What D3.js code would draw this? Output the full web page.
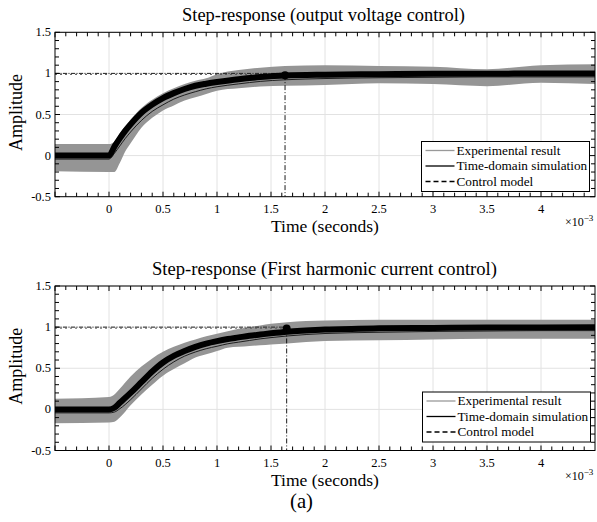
<!DOCTYPE html>
<html>
<head>
<meta charset="utf-8">
<script src="https://cdn.jsdelivr.net/npm/d3@7"></script>
<style>
  html, body { margin: 0; padding: 0; background: #fff; }
  svg { display: block; }
</style>
</head>
<body>
<svg id="chart" width="597" height="522" font-family="'Liberation Serif', 'DejaVu Serif', serif"></svg>
<script>
// ---- data (time in milliseconds, amplitude normalised) ----
const topTitle = "Step-response (output voltage control)";
const botTitle = "Step-response (First harmonic current control)";
const xTickValues = [0, 0.5, 1, 1.5, 2, 2.5, 3, 3.5, 4];
const xTickLabels = ["0", "0.5", "1", "1.5", "2", "2.5", "3", "3.5", "4"];
const yTickValues = [-0.5, 0, 0.5, 1, 1.5];
const yTickLabels = ["-0.5", "0", "0.5", "1", "1.5"];
const legendLabels = ["Experimental result", "Time-domain simulation", "Control model"];

// output voltage control
const topTime  = [-0.5, 0, 0.05, 0.1, 0.15, 0.2, 0.3, 0.4, 0.5, 0.6, 0.7, 0.8, 0.9, 1.0, 1.2, 1.4, 1.63, 2.0, 2.5, 3.0, 3.5, 4.0, 4.5];
const topSim   = [0, 0, 0.11, 0.21, 0.30, 0.38, 0.52, 0.62, 0.70, 0.76, 0.81, 0.85, 0.875, 0.895, 0.93, 0.955, 0.975, 0.985, 0.99, 0.995, 0.995, 1.0, 1.0];
const topModel = [0, 0, 0.07, 0.16, 0.25, 0.33, 0.47, 0.58, 0.66, 0.73, 0.78, 0.82, 0.855, 0.88, 0.915, 0.945, 0.965, 0.98, 0.99, 0.995, 1.0, 1.0, 1.0];
const topExpHigh = [0.14, 0.14, 0.17, 0.27, 0.36, 0.44, 0.58, 0.68, 0.76, 0.82, 0.87, 0.91, 0.94, 0.99, 1.04, 1.07, 1.09, 1.1, 1.09, 1.08, 1.05, 1.1, 1.11];
const topExpLow  = [-0.19, -0.2, -0.2, -0.09, 0.05, 0.15, 0.34, 0.46, 0.55, 0.61, 0.67, 0.71, 0.75, 0.79, 0.82, 0.84, 0.85, 0.86, 0.88, 0.87, 0.845, 0.885, 0.87];
const topSettle = { t: 1.63, v: 0.979 };

// first harmonic current control
const botTime  = [-0.5, 0, 0.05, 0.1, 0.2, 0.3, 0.4, 0.5, 0.6, 0.7, 0.8, 0.9, 1.0, 1.1, 1.2, 1.3, 1.4, 1.5, 1.65, 2.0, 2.5, 3.0, 3.5, 4.0, 4.5];
const botSim   = [0, 0, 0.02, 0.08, 0.2, 0.33, 0.46, 0.57, 0.65, 0.71, 0.76, 0.8, 0.83, 0.855, 0.875, 0.895, 0.91, 0.925, 0.945, 0.97, 0.985, 0.99, 0.995, 0.995, 1.0];
const botModel = [0, 0, 0.01, 0.05, 0.16, 0.29, 0.42, 0.53, 0.62, 0.69, 0.74, 0.78, 0.81, 0.84, 0.86, 0.88, 0.9, 0.915, 0.935, 0.965, 0.98, 0.99, 0.995, 1.0, 1.0];
const botExpHigh = [0.13, 0.15, 0.18, 0.25, 0.4, 0.52, 0.62, 0.7, 0.76, 0.81, 0.85, 0.89, 0.92, 0.95, 0.98, 1.0, 1.02, 1.04, 1.06, 1.08, 1.09, 1.09, 1.09, 1.09, 1.09];
const botExpLow  = [-0.17, -0.16, -0.15, -0.1, 0.05, 0.18, 0.3, 0.41, 0.49, 0.56, 0.63, 0.67, 0.71, 0.75, 0.76, 0.77, 0.78, 0.79, 0.8, 0.83, 0.84, 0.85, 0.86, 0.86, 0.86];
const botSettle = { t: 1.645, v: 0.984 };

const FONT = "'Liberation Serif', 'DejaVu Serif', serif";
const svg = d3.select("#chart");
const W = { left: 55, right: 595 };

// scale a text's font size so that its rendered width equals `width`
function fitWidth(sel, width) {
  const fs = parseFloat(sel.attr("font-size"));
  const w = sel.node().getComputedTextLength();
  if (w > 0) sel.attr("font-size", (fs * width / w).toFixed(2));
  return sel;
}

function txt(parent, x, y, s, size, anchor) {
  return parent.append("text").attr("x", x).attr("y", y).attr("font-family", FONT)
    .attr("font-size", size).attr("text-anchor", anchor || "start").attr("fill", "#000").text(s);
}

function drawPanel(cfg) {
  const x = d3.scaleLinear().domain([-0.5, 4.5]).range([W.left, W.right]);
  const y = d3.scaleLinear().domain([-0.5, 1.5]).range([cfg.bottom, cfg.top]);
  const g = svg.append("g");
  const clipId = "clip" + cfg.id;
  svg.append("clipPath").attr("id", clipId).append("rect")
    .attr("x", W.left).attr("y", cfg.top).attr("width", W.right - W.left).attr("height", cfg.bottom - cfg.top);

  // grid
  const grid = g.append("g").attr("stroke", "#e2e2e2").attr("stroke-width", 1);
  xTickValues.forEach(v => grid.append("line").attr("x1", x(v)).attr("x2", x(v)).attr("y1", cfg.top).attr("y2", cfg.bottom));
  yTickValues.forEach(v => grid.append("line").attr("x1", W.left).attr("x2", W.right).attr("y1", y(v)).attr("y2", y(v)));

  const plot = g.append("g").attr("clip-path", `url(#${clipId})`);

  // experimental envelope
  const idx = d3.range(cfg.time.length);
  const area = d3.area().curve(d3.curveMonotoneX)
    .x(i => x(cfg.time[i])).y0(i => y(cfg.expLow[i])).y1(i => y(cfg.expHigh[i]));
  plot.append("path").attr("d", area(idx)).attr("fill", "#959595");

  const line = arr => d3.line().curve(d3.curveMonotoneX).x(i => x(cfg.time[i])).y(i => y(arr[i]))(idx);

  // reference level
  const ref = d3.line()([[x(-0.5), y(1)], [x(cfg.settle.t), y(1)]]);
  plot.append("path").attr("d", ref).attr("fill", "none").attr("stroke", "#222").attr("stroke-width", 1)
    .attr("stroke-dasharray", "4,1.5,1,1.5");
  plot.append("path").attr("d", ref).attr("fill", "none").attr("stroke", "#555").attr("stroke-width", 1)
    .attr("stroke-dasharray", "2,3").attr("transform", "translate(0,1)");

  // simulation (thick) and model (thin)
  plot.append("path").attr("d", line(cfg.sim)).attr("fill", "none").attr("stroke", "#000").attr("stroke-width", 6);
  plot.append("path").attr("d", line(cfg.model)).attr("fill", "none").attr("stroke", "#111").attr("stroke-width", 0.9)
    .attr("transform", "translate(0,3.5)");

  // settling marker
  plot.append("line").attr("x1", x(cfg.settle.t)).attr("x2", x(cfg.settle.t))
    .attr("y1", y(cfg.settle.v)).attr("y2", cfg.bottom)
    .attr("stroke", "#000").attr("stroke-width", 0.9).attr("stroke-dasharray", "5,2,1,2");
  plot.append("circle").attr("cx", x(cfg.settle.t)).attr("cy", y(cfg.settle.v)).attr("r", 4).attr("fill", "#000");

  // axes box and inner ticks on all sides
  const ax = g.append("g").attr("stroke", "#000").attr("stroke-width", 1).attr("fill", "none");
  ax.append("rect").attr("x", W.left).attr("y", cfg.top).attr("width", W.right - W.left).attr("height", cfg.bottom - cfg.top);
  d3.range(-5, 45).map(v => v / 10).forEach(v => {
    const major = Math.abs(v * 2 - Math.round(v * 2)) < 1e-9;
    const len = major ? 5 : 4;
    ax.append("line").attr("x1", x(v)).attr("x2", x(v)).attr("y1", cfg.bottom).attr("y2", cfg.bottom - len);
    ax.append("line").attr("x1", x(v)).attr("x2", x(v)).attr("y1", cfg.top).attr("y2", cfg.top + len);
  });
  d3.range(-5, 16).map(v => v / 10).forEach(v => {
    const major = Math.abs(v * 2 - Math.round(v * 2)) < 1e-9;
    const len = major ? 5 : 4;
    ax.append("line").attr("x1", W.left).attr("x2", W.left + len).attr("y1", y(v)).attr("y2", y(v));
    ax.append("line").attr("x1", W.right).attr("x2", W.right - len).attr("y1", y(v)).attr("y2", y(v));
  });

  // tick labels
  xTickValues.forEach((v, i) => txt(g, x(v), cfg.bottom + 16, xTickLabels[i], 12.5, "middle"));
  yTickValues.forEach((v, i) => txt(g, W.left - 4, y(v) + 4, yTickLabels[i], 12.5, "end"));

  const mult = txt(g, 565, cfg.bottom + 29, "", 12);
  mult.append("tspan").text("\u00d710");
  mult.append("tspan").attr("dy", -5).attr("font-size", 9).text("\u22123");

  // titles and axis labels
  fitWidth(txt(g, cfg.titleX, cfg.top - 11, cfg.title, 16, "middle"), cfg.titleW);
  fitWidth(txt(g, 325, cfg.bottom + 35, "Time (seconds)", 17, "middle"), 108);
  fitWidth(txt(g, 0, 0, "Amplitude", 17, "middle")
    .attr("transform", `translate(22,${(cfg.top + cfg.bottom) / 2 - 2}) rotate(-90)`), 77);

  // legend
  const lg = g.append("g").attr("transform", `translate(${cfg.legend.x},${cfg.legend.y})`);
  lg.append("rect").attr("width", 168).attr("height", 50).attr("fill", "#fff").attr("stroke", "#000").attr("stroke-width", 1);
  const styles = [
    { stroke: "#999", dash: null },
    { stroke: "#000", dash: null },
    { stroke: "#000", dash: "5,3" }
  ];
  let legSize = null;
  legendLabels.forEach((lab, i) => {
    const yy = 9 + i * 15.5;
    lg.append("line").attr("x1", 4).attr("x2", 33).attr("y1", yy).attr("y2", yy)
      .attr("stroke", styles[i].stroke).attr("stroke-width", 1.3).attr("stroke-dasharray", styles[i].dash);
    const t = txt(lg, 35, yy + 4.3, lab, legSize || 13);
    if (i === 0) { fitWidth(t, 104); legSize = t.attr("font-size"); }
  });
}

drawPanel({
  id: "top", top: 32.3, bottom: 196.7, title: topTitle, titleX: 323.5, titleW: 283,
  time: topTime, sim: topSim, model: topModel, expHigh: topExpHigh, expLow: topExpLow,
  settle: topSettle, legend: { x: 421.5, y: 141.5 }
});
drawPanel({
  id: "bot", top: 286, bottom: 450.5, title: botTitle, titleX: 324.5, titleW: 345,
  time: botTime, sim: botSim, model: botModel, expHigh: botExpHigh, expLow: botExpLow,
  settle: botSettle, legend: { x: 422.5, y: 392 }
});

fitWidth(txt(svg, 301.5, 508, "(a)", 18, "middle"), 23);
</script>
</body>
</html>
